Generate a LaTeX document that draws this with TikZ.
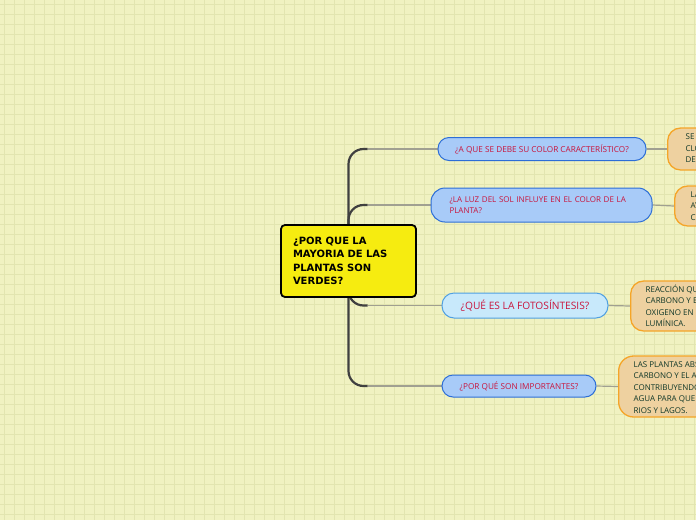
\documentclass[tikz,border=0pt]{standalone}
\usepackage{fontspec}
\setmainfont{Open Sans}
\newfontfamily\rootfont{DejaVu Sans}
\usetikzlibrary{calc,backgrounds}

\definecolor{paper}{RGB}{240,242,193}
\definecolor{gridc}{RGB}{226,229,176}
\definecolor{rootyellow}{RGB}{246,236,16}
\definecolor{qfill}{RGB}{168,203,248}
\definecolor{qline}{RGB}{45,110,215}
\definecolor{qfilllight}{RGB}{200,233,251}
\definecolor{qlinelight}{RGB}{80,160,225}
\definecolor{qtext}{RGB}{200,20,60}
\definecolor{afill}{RGB}{238,209,160}
\definecolor{aline}{RGB}{245,165,40}
\definecolor{atext}{RGB}{15,55,40}

\tikzset{
  rootbox/.style={draw=black, line width=1.8pt, fill=rootyellow, rounded corners=4pt,
    text width=111pt, inner xsep=12pt, minimum height=72pt, align=left,
    font=\rootfont\bfseries\fontsize{10}{13.3}\selectfont},
  question/.style={draw=qline, line width=1pt, fill=qfill, rounded corners=11pt,
    text=qtext, inner sep=0pt, align=center, font=\fontsize{8.2}{11}\selectfont},
  answer/.style={draw=aline, line width=1.3pt, fill=afill, rounded corners=13pt,
    text=atext, anchor=west, align=left, inner ysep=0pt, inner xsep=15pt,
    font=\fontsize{8}{11.5}\selectfont},
  trunk/.style={draw={rgb,255:red,64;green,64;blue,64}, line width=2.2pt, rounded corners=15pt},
  twig/.style={draw={rgb,255:red,160;green,160;blue,145}, line width=1.2pt}
}

\begin{document}
\begin{tikzpicture}[x=1pt, y=-1pt]
  \useasboundingbox (0,0) rectangle (696,520);

  % main topic
  \node[rootbox] (root) at (348.5,261)
    {¿POR QUE LA\\MAYORIA DE LAS\\PLANTAS SON\\VERDES?};

  % questions
  \node[question, minimum width=208pt, minimum height=23pt] (q1) at (542,149)
    {¿A QUE SE DEBE SU COLOR CARACTERÍSTICO?};
  \node[question, minimum width=221pt, minimum height=34pt, rounded corners=14pt,
        text width=184pt, inner xsep=18.5pt, align=left,
        font=\fontsize{8}{11}\selectfont] (q2) at (541.5,205)
    {¿LA LUZ DEL SOL INFLUYE EN EL COLOR DE LA\\PLANTA?};
  \node[question, fill=qfilllight, draw=qlinelight, minimum width=166pt, minimum height=25pt,
        rounded corners=12pt, font=\fontsize{10.2}{12}\selectfont] (q3) at (525,305.5)
    {¿QUÉ ES LA FOTOSÍNTESIS?};
  \node[question, minimum width=154pt, minimum height=22pt] (q4) at (519,386)
    {¿POR QUÉ SON IMPORTANTES?};

  % answers (cut by the page edge)
  \node[answer, minimum height=42pt, inner xsep=18pt] (a1) at (667,149)
    {SE DEBE A LA\\CLOROFILA\\DE LAS HOJAS};
  \node[answer, minimum height=40pt, inner xsep=16pt] (a2) at (674,206)
    {LA LUZ\\AYUDA\\CON EL COLOR};
  \node[answer, minimum height=50pt] (a3) at (630,306)
    {REACCIÓN QUÍMICA QUE TRANSFORMA\\CARBONO Y EL AGUA EN\\OXIGENO EN PRESENCIA DE ENERGÍA\\LUMÍNICA.};
  \node[answer, minimum height=61pt, rounded corners=15pt] (a4) at (618,386.5)
    {LAS PLANTAS ABSORBEN EL DIÓXIDO DE\\CARBONO Y EL AIRE\\CONTRIBUYENDO AL CICLO DEL\\AGUA PARA QUE EXISTAN\\RIOS Y LAGOS.};

  \begin{scope}[on background layer]
    \fill[paper] (0,0) rectangle (696,520);
    \foreach \g in {4,14,...,694}
      \draw[gridc, line width=0.9pt] (\g,0) -- (\g,520);
    \foreach \g in {4,14,...,514}
      \draw[gridc, line width=0.9pt] (0,\g) -- (696,\g);
    \foreach \q in {q1,q2,q3,q4} {
      \draw[trunk] (root.center) |- ($(root.center |- \q.west)+(19,0)$) coordinate (k\q);
      \draw[twig] (k\q) -- (\q.west);
    }
    \foreach \n in {1,2,3,4}
      \draw[twig] (q\n.east) -- (a\n.west);
  \end{scope}
\end{tikzpicture}
\end{document}
